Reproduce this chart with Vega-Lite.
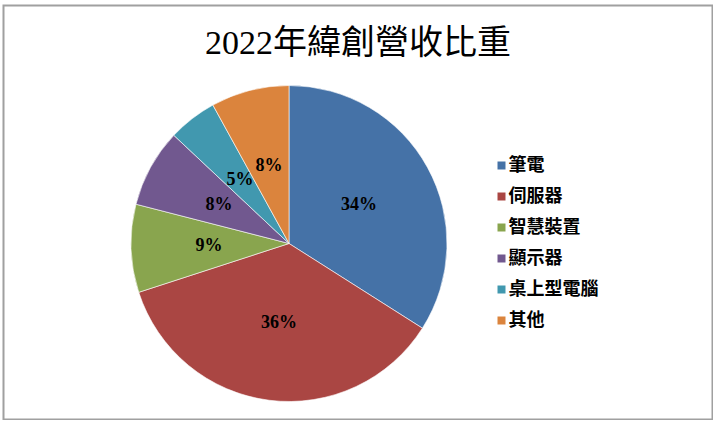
{
  "$schema": "https://vega.github.io/schema/vega-lite/v6.json",
  "description": "2022年緯創營收比重 pie chart",
  "width": 709,
  "height": 414,
  "autosize": {"type": "none"},
  "padding": {"left": 3.5, "top": 5.5, "right": 0, "bottom": 0},
  "background": "white",
  "view": {"stroke": "#a0a0a0", "strokeWidth": 2, "fill": "#ffffff"},
  "title": {
    "text": "2022年緯創營收比重",
    "anchor": "middle",
    "frame": "group",
    "baseline": "alphabetic",
    "offset": -82,
    "font": "Liberation Serif, Noto Sans CJK TC",
    "fontSize": 34,
    "fontWeight": "normal",
    "color": "#000000"
  },
  "data": {
    "values": [
      {"cat": "筆電", "share": 0.34, "ord": 1},
      {"cat": "伺服器", "share": 0.36, "ord": 2},
      {"cat": "智慧裝置", "share": 0.09, "ord": 3},
      {"cat": "顯示器", "share": 0.08, "ord": 4},
      {"cat": "桌上型電腦", "share": 0.05, "ord": 5},
      {"cat": "其他", "share": 0.08, "ord": 6}
    ]
  },
  "encoding": {
    "theta": {"field": "share", "type": "quantitative", "stack": true},
    "order": {"field": "ord", "type": "quantitative"}
  },
  "layer": [
    {
      "mark": {"type": "arc", "x": 285.5, "y": 238, "outerRadius": 158, "stroke": "#ffffff", "strokeWidth": 0.6},
      "encoding": {
        "color": {
          "field": "cat",
          "type": "nominal",
          "scale": {
            "domain": ["筆電", "伺服器", "智慧裝置", "顯示器", "桌上型電腦", "其他"],
            "range": ["#4572A7", "#AA4643", "#89A54E", "#71588F", "#4198AF", "#DB843D"]
          },
          "legend": {
            "title": null,
            "orient": "none",
            "legendX": 489,
            "legendY": 151,
            "padding": 0,
            "symbolType": "square",
            "symbolSize": 64,
            "symbolStrokeWidth": 0,
            "labelFont": "Noto Sans CJK TC",
            "labelFontSize": 18,
            "labelFontWeight": "bold",
            "labelColor": "#000000",
            "labelOffset": -2,
            "rowPadding": 13
          }
        }
      }
    },
    {
      "mark": {"type": "text", "x": 285.5, "y": 238, "radius": 80, "font": "Liberation Serif", "fontSize": 18, "fontWeight": "bold", "color": "#000000"},
      "encoding": {
        "text": {"field": "share", "type": "quantitative", "format": ".0%"}
      }
    }
  ],
  "config": {
    "view": {"stroke": "#a0a0a0", "strokeWidth": 2}
  }
}
